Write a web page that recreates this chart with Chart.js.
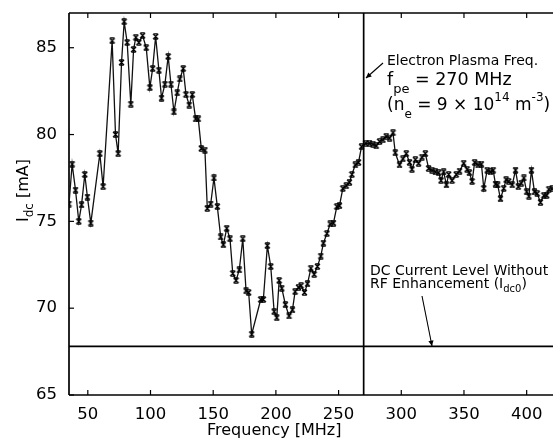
<!DOCTYPE html>
<html><head><meta charset="utf-8">
<script src="https://cdn.jsdelivr.net/npm/chart.js@4.4.1/dist/chart.umd.min.js"></script>
<style>html,body{margin:0;padding:0;background:#fff}</style>
</head><body>
<canvas id="c" width="553" height="439"></canvas>
<script>
const freqMHz = [35.0,37.5,40.2,42.8,45.0,47.6,49.7,52.4,59.6,62.2,69.4,72.1,74.2,76.9,79.0,81.4,84.3,86.5,88.3,90.7,93.7,96.6,99.5,101.7,104.1,106.7,108.8,111.5,114.1,116.3,118.7,121.3,123.4,126.1,128.3,130.9,133.3,136.0,138.1,140.5,143.4,145.3,148.0,150.6,153.3,156.0,158.1,160.8,163.4,165.6,168.2,170.8,173.6,176.2,178.3,180.7,187.9,190.0,193.2,195.9,198.6,200.7,202.6,204.7,207.6,210.5,213.2,215.3,218.0,220.1,222.8,225.2,227.9,230.5,233.1,235.8,237.9,240.7,243.3,245.9,248.6,250.7,253.4,256.1,258.7,260.6,263.3,265.9,268.3,271.6,274.7,277.4,280.0,282.7,285.4,288.0,290.7,293.4,295.2,298.6,301.3,304.0,306.6,308.5,311.2,313.8,316.5,319.2,321.8,324.5,327.2,329.8,331.7,333.8,336.0,337.8,340.5,343.8,346.5,349.8,352.5,354.3,356.5,358.5,361.2,363.9,365.8,368.5,371.1,373.3,375.1,376.9,379.1,381.7,383.6,385.7,388.5,391.1,393.3,395.7,397.8,400.0,401.8,403.8,406.2,408.4,411.0,413.7,416.0,417.7,420.4];
const idcMA = [76.0,78.3,76.8,75.0,75.95,77.7,76.4,74.9,78.9,77.0,85.4,80.0,78.9,84.15,86.5,85.3,81.75,84.9,85.6,85.3,85.7,85.0,82.7,83.8,85.65,83.7,82.1,82.9,84.5,82.9,81.3,82.4,83.2,83.8,82.3,81.7,82.3,80.9,80.9,79.2,79.1,75.75,76.0,77.5,75.85,74.1,73.65,74.6,74.0,72.0,71.6,72.2,74.0,71.0,70.9,68.5,70.5,70.5,73.6,72.4,69.8,69.45,71.6,71.15,70.2,69.55,69.9,70.95,71.2,71.3,70.9,71.4,72.3,71.95,72.4,73.0,73.75,74.3,74.85,74.9,75.85,75.9,76.9,77.05,77.25,77.7,78.25,78.4,79.3,79.5,79.5,79.45,79.35,79.6,79.7,79.9,79.8,80.1,78.95,78.25,78.6,78.9,78.4,78.0,78.55,78.35,78.7,78.9,78.05,77.95,77.85,77.8,77.35,77.85,77.1,77.7,77.35,77.7,77.9,78.35,78.0,77.8,77.3,78.4,78.25,78.3,76.9,77.95,77.85,77.95,77.15,77.1,76.3,76.9,77.4,77.3,77.1,77.95,77.0,77.2,77.5,76.7,76.45,77.95,76.7,76.6,76.1,76.5,76.5,76.85,76.9];
const xTicks = [50,100,150,200,250,300,350,400];
const yTicks = [65,70,75,80,85];
const plasmaFreq = 270;
const idc0 = 67.8;

const FONT = "'DejaVu Sans', sans-serif";

function makeMarker(){
  const c = document.createElement('canvas'); c.width = 7; c.height = 7;
  const g = c.getContext('2d'); g.strokeStyle = '#000'; g.lineWidth = 1.2;
  g.beginPath();
  g.moveTo(1,1); g.lineTo(6,6); g.moveTo(6,1); g.lineTo(1,6);
  g.moveTo(1.2,0.8); g.lineTo(5.8,0.8); g.moveTo(1.2,6.2); g.lineTo(5.8,6.2);
  g.stroke();
  return c;
}

function seg(ctx, x1, y1, x2, y2){ ctx.beginPath(); ctx.moveTo(x1,y1); ctx.lineTo(x2,y2); ctx.stroke(); }
function arrow(ctx, x1, y1, x2, y2){
  seg(ctx, x1, y1, x2, y2);
  const a = Math.atan2(y2-y1, x2-x1), L = 6, w = 0.45;
  ctx.beginPath(); ctx.moveTo(x2, y2);
  ctx.lineTo(x2 - L*Math.cos(a-w), y2 - L*Math.sin(a-w));
  ctx.lineTo(x2 - L*Math.cos(a+w), y2 - L*Math.sin(a+w));
  ctx.closePath(); ctx.fill();
}
// parts: [text, size, dy]
function rich(ctx, x, y, parts){
  for (const [t, size, dy] of parts){
    ctx.font = size + 'px ' + FONT;
    ctx.fillText(t, x, y + dy);
    x += ctx.measureText(t).width;
  }
}

const overlay = {
  id: 'overlay',
  beforeDatasetsDraw(chart){
    const {ctx, chartArea: a, scales: {x, y}} = chart;
    ctx.save();
    ctx.strokeStyle = '#000'; ctx.lineWidth = 1.7;
    const px = x.getPixelForValue(plasmaFreq);
    seg(ctx, px, a.top, px, a.bottom);
    const py = y.getPixelForValue(idc0);
    seg(ctx, a.left, py, a.right, py);
    // frame
    seg(ctx, a.left, a.top, a.right, a.top);
    seg(ctx, a.left, a.bottom, a.right, a.bottom);
    seg(ctx, a.left, a.top, a.left, a.bottom);
    ctx.lineWidth = 1.2;
    for (const v of xTicks){
      const p = x.getPixelForValue(v);
      seg(ctx, p, a.bottom, p, a.bottom - 5);
      seg(ctx, p, a.top, p, a.top + 5);
    }
    for (const v of yTicks){
      const p = y.getPixelForValue(v);
      seg(ctx, a.left, p, a.left + 5, p);
    }
    ctx.restore();
  },
  afterDraw(chart){
    const {ctx} = chart;
    ctx.save();
    ctx.fillStyle = '#000'; ctx.strokeStyle = '#000'; ctx.lineWidth = 1.1;
    ctx.textBaseline = 'alphabetic'; ctx.textAlign = 'left';
    // x title
    ctx.font = '16px ' + FONT;
    ctx.fillText('Frequency [MHz]', 207, 435);
    // y title
    ctx.save();
    ctx.translate(28, 222); ctx.rotate(-Math.PI/2);
    rich(ctx, 0, 0, [['I',16,0],['dc',12,4.5],[' [mA]',16,0]]);
    ctx.restore();
    // plasma annotation
    rich(ctx, 387, 65, [['Electron Plasma Freq.',14,0]]);
    rich(ctx, 387, 85, [['f',17.5,0],['pe',13,8],[' = 270 MHz',17.5,0]]);
    rich(ctx, 387, 110, [['(',17,0],['n',17,0],['e',12,8],[' = 9 \u00d7 10',17,0],['14',12,-9],[' m',17,0],['-3',12,-9],[')',17,0]]);
    arrow(ctx, 383, 63, 366, 78);
    // dc annotation
    rich(ctx, 370, 275, [['DC Current Level Without',14,0]]);
    rich(ctx, 370, 288, [['RF Enhancement (I',14,0],['dc0',10,4],[')',14,0]]);
    arrow(ctx, 422, 296, 432, 346);
    ctx.restore();
  }
};

new Chart(document.getElementById('c'), {
  type: 'line',
  data: { datasets: [{
    data: freqMHz.map((f, i) => ({x: f, y: idcMA[i]})),
    borderColor: '#111', borderWidth: 1.3, tension: 0, fill: false,
    pointStyle: makeMarker(), pointRadius: 3.5
  }]},
  options: {
    responsive: false, animation: false, devicePixelRatio: 1,
    layout: { autoPadding: false, padding: { top: 13, left: 0, right: 0, bottom: 0 } },
    plugins: { legend: { display: false }, tooltip: { enabled: false } },
    scales: {
      x: {
        type: 'linear', min: 35, max: 421,
        afterBuildTicks: s => { s.ticks = xTicks.map(v => ({value: v})); },
        afterFit: s => { s.height = 44; s.paddingRight = 0; s.paddingLeft = 0; },
        grid: { display: false }, border: { display: false },
        ticks: { color: '#000', font: { family: FONT, size: 16.5 }, padding: 2, maxRotation: 0, autoSkip: false }
      },
      y: {
        type: 'linear', min: 65, max: 87,
        afterBuildTicks: s => { s.ticks = yTicks.map(v => ({value: v})); },
        afterFit: s => { s.width = 69; s.paddingTop = 0; s.paddingBottom = 0; },
        grid: { display: false }, border: { display: false },
        ticks: { color: '#000', font: { family: FONT, size: 16.5 }, padding: 4 }
      }
    }
  },
  plugins: [overlay]
});
</script>
</body></html>
